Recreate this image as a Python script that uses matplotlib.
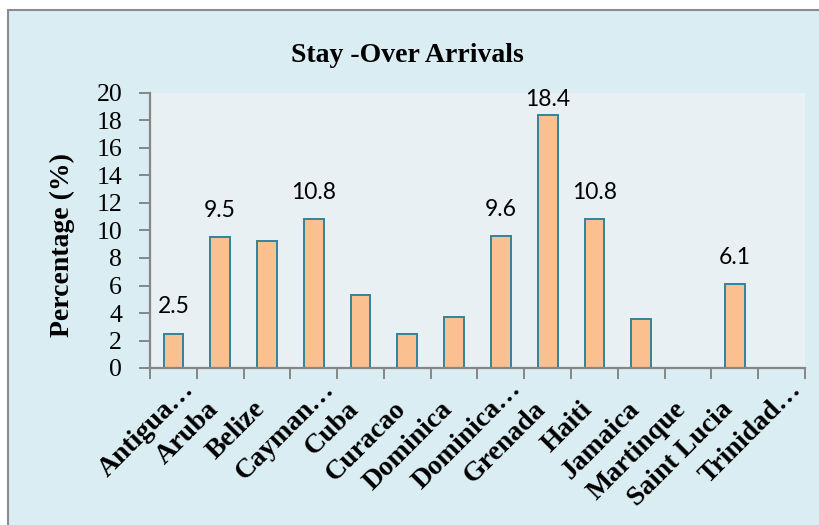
import matplotlib
matplotlib.use("Agg")
import matplotlib.pyplot as plt
from matplotlib.patches import Rectangle
from matplotlib.transforms import offset_copy
import numpy as np

countries = ["Antigua…", "Aruba", "Belize", "Cayman…", "Cuba", "Curacao",
             "Dominica", "Dominica…", "Grenada", "Haiti", "Jamaica",
             "Martinque", "Saint Lucia", "Trinidad…"]
share = [2.5, 9.5, 9.2, 10.8, 5.3, 2.5, 3.7, 9.6, 18.4, 10.8, 3.6, 0.0, 6.1, 0.0]
labelled = [True, True, False, True, False, False, False, True, True, True,
            False, False, True, False]
yticks = list(range(0, 21, 2))

plt.rcParams['font.family'] = ['Liberation Serif', 'DejaVu Serif']

W, H = 820, 525
fig = plt.figure(figsize=(W / 100, H / 100), dpi=100)
fig.patch.set_facecolor('white')

# light blue chart frame, behind the axes
fig.patches.append(Rectangle((8 / W, -0.02), 1.0, 1 - 10 / H + 0.02,
                             transform=fig.transFigure, facecolor='#DAEDF3',
                             edgecolor='#8C8C8C', linewidth=1.5, zorder=-5))

ax = fig.add_axes([150 / W, 157 / H, 655 / W, 275 / H])
ax.set_zorder(2)
ax.set_facecolor('#E8F0F4')

x = np.arange(len(countries))
ax.bar(x, share, width=0.42, color='#FAC090', edgecolor='#31849B',
       linewidth=1.4, zorder=2)

ax.set_xlim(-0.5, len(countries) - 0.5)
ax.set_ylim(0, 20)
ax.set_yticks(yticks)
ax.set_yticklabels([str(t) for t in yticks])
ax.set_xticks(np.arange(-0.5, len(countries), 1.0))
ax.set_xticklabels([])

for side in ['top', 'right']:
    ax.spines[side].set_visible(False)
for side in ['left', 'bottom']:
    ax.spines[side].set_color('#868686')
    ax.spines[side].set_linewidth(1.6)

ax.tick_params(axis='y', length=8, width=1.4, color='#868686', pad=12,
               labelsize=18.5)
ax.tick_params(axis='x', length=8, width=1.4, color='#868686')

# rotated category names; the ellipsis hangs past the common end line
for i, name in enumerate(countries):
    dx, dy = -1, -42
    if name.endswith('…'):
        dx, dy = dx + 22, dy + 20
    tr = offset_copy(ax.get_xaxis_transform(), fig=fig, x=dx, y=dy,
                     units='dots')
    ax.text(i, 0, name, transform=tr, rotation=45, rotation_mode='anchor',
            ha='right', va='baseline', fontsize=20, fontweight='bold',
            clip_on=False)

# value labels above bars, kept inside the plot area
for i, (v, show) in enumerate(zip(share, labelled)):
    if not show:
        continue
    ax.text(i, min(v + 1.95, 19.55), f"{v:.1f}", ha='center', va='center',
            family='Lato', fontsize=16.5, clip_on=False, zorder=3)

fig.text(62 / W, 1 - 245 / H, 'Percentage (%)', rotation=90, ha='center',
         va='center', fontsize=20, fontweight='bold')
fig.text(407 / W, 1 - 55 / H, 'Stay -Over Arrivals', ha='center',
         va='center', fontsize=20, fontweight='bold')

fig.savefig('out.png', dpi=100)
